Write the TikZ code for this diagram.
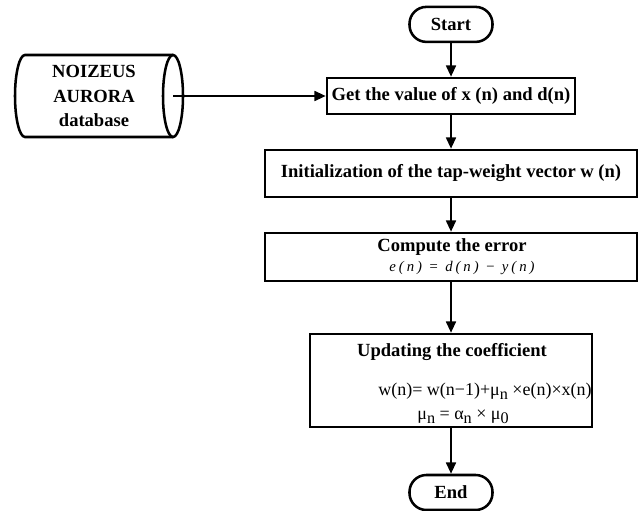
\documentclass[tikz,border=0pt]{standalone}
\usepackage{fontspec}
\setmainfont{Liberation Serif}
\newfontfamily\eqfont[LetterSpace=20]{Liberation Serif}
\usepackage{tikz}
\usetikzlibrary{positioning,arrows.meta}
\definecolor{colorblack}      {RGB}{  0,  0,  0}
\definecolor{colorwhite}      {RGB}{255,255,255}
\newcommand{\lowsub}[1]{\raisebox{-0.6ex}{\fontsize{11.5}{11.5}\selectfont #1}}

\begin{document}
\begin{tikzpicture}[
    >={Triangle[length=8pt,width=7pt]},
    title/.style={text=colorblack,font={\fontsize{13.2}{17.4}\selectfont\bfseries}},
    code/.style={text=colorblack,font={\fontsize{12.8}{15}\selectfont}},
    errorcode/.style={text=colorblack,font={\eqfont\fontsize{10.5}{12}\selectfont\itshape}},
    box/.style={draw=colorblack,line width=1.8pt,inner sep=0pt},
    terminal/.style={box,rounded corners=12pt,minimum width=2.075cm,minimum height=0.875cm},
    flow/.style={->,colorblack,line width=1.5pt},
]

    \useasboundingbox (0,0) rectangle (16,12.75);

    % Database
    \draw[box] (4.325,11.375) -- (0.625,11.375) arc (90:270:0.25 and 1.025) -- (4.325,9.325);
    \draw[box] (4.325,10.35) ellipse (0.25 and 1.025);
    \node[title,align=center] at (2.35,10.35) (db) {NOIZEUS\\AURORA\\database};
    \coordinate (dbout) at (4.325,10.35);

    % Start
    \node[terminal,title] at (11.275,12.14) (start) {Start};

    % Get the values
    \node[box,title,minimum width=6.2cm,minimum height=0.9cm] at (11.275,10.35) (get) {Get the value of x (n) and d(n)};

    % Initialization
    \node[box,title,minimum width=9.3cm,minimum height=1.175cm] at (11.275,8.4125) (init) {Initialization of the tap-weight vector w (n)};

    % Error
    \node[box,minimum width=9.3cm,minimum height=1.2cm] at (11.275,6.325) (error) {};
    \node[title,anchor=base] at (11.3,6.475) (errortitle) {Compute the error};
    \node[errorcode,anchor=base] at (11.55,5.975) (erroreq) {e(n) = d(n) − y(n)};

    % Update
    \node[box,minimum width=7.05cm,minimum height=2.325cm] at (11.275,3.2375) (update) {};
    \node[title,anchor=base] at (11.3,3.85) (updatetitle) {Updating the coefficient};
    \node[code,anchor=base] at (12.125,2.875) (updateeq1) {w(n)= w(n−1)+μ\lowsub{n} ×e(n)×x(n)};
    \node[code,anchor=base] at (11.575,2.275) (updateeq2) {μ\lowsub{n} = α\lowsub{n} × μ\lowsub{0}};

    % End
    \node[terminal,title] at (11.275,0.4375) (stop) {End};

    % Arrows
    \draw[flow] (dbout) -- (get); % database to get
    \draw[flow] (start) -- (get); % start to get
    \draw[flow] (get) -- (init); % get to initialization
    \draw[flow] (init) -- (error); % initialization to error
    \draw[flow] (error) -- (update); % error to update
    \draw[flow] (update) -- (stop); % update to end

\end{tikzpicture}
\end{document}
